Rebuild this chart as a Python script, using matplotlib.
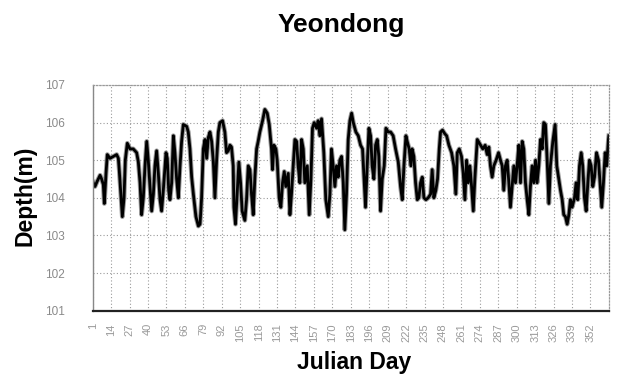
import numpy as np
import matplotlib
matplotlib.use("Agg")
import matplotlib.pyplot as plt

# Yeondong water depth (Julian day, depth in m)
julian_day = [
    1.0, 2.6, 4.3, 6.2, 7.3, 8.5, 9.2, 10.4, 11.3, 13.2, 15.6, 17.9, 19.1, 19.8,
    20.7, 21.9, 23.1, 24.0, 25.4, 27.3, 29.6, 32.0, 33.2, 34.4, 35.5, 36.7, 37.9,
    39.1, 40.2, 41.4, 42.6, 43.8, 44.9, 46.1, 47.3, 48.5, 49.6, 50.8, 52.7, 53.6,
    54.6, 55.5, 56.7, 57.9, 59.0, 60.2, 61.4, 62.6, 63.7, 64.9, 67.3, 68.4, 69.6,
    70.8, 72.0, 73.8, 75.5, 76.7, 77.8, 79.0, 80.2, 81.4, 82.5, 83.7, 84.9, 86.1,
    87.2, 88.4, 89.6, 90.7,
    92.6, 94.2, 95.4, 96.6, 97.8, 98.9, 100.1, 100.6, 101.7, 102.9, 104.1, 105.3,
    106.4, 108.3, 109.5, 110.7, 111.9, 113.0, 114.2, 115.4, 116.6, 117.7, 118.9,
    120.8, 122.4, 124.1, 125.5, 127.1, 127.8, 128.8, 130.2, 131.1, 132.5, 133.7,
    134.9, 136.1, 137.2, 138.9, 140.1, 141.2, 142.4, 143.6, 144.8, 145.9, 147.1,
    148.3, 149.5, 150.6, 152.3, 153.7, 154.9, 156.0, 157.2, 158.9, 160.0, 161.2,
    162.4, 164.0, 165.4, 167.1, 168.3, 169.4, 170.6, 171.8, 173.0, 174.1, 175.3,
    176.5, 177.7, 178.8, 180.0, 181.2, 182.4,
    183.6, 184.8, 186.6, 188.3, 189.9, 191.3, 192.3, 193.4, 194.6, 195.8, 197.0,
    198.1, 199.3, 200.5, 201.7, 202.8, 204.0, 205.2, 206.6, 207.8, 209.4, 211.1,
    212.9, 214.6, 216.5, 218.1, 219.3, 220.5, 221.9, 222.8, 224.2, 225.4, 226.3,
    227.5, 228.7, 229.9, 231.0, 232.2, 233.4, 234.6, 236.0, 237.6, 239.3, 240.4,
    241.6, 243.0, 244.2, 245.4, 246.3, 247.7, 249.4, 250.6, 252.2, 254.1, 255.7,
    257.1, 258.1, 259.5, 261.1, 262.3, 263.5, 264.7, 265.8, 267.0, 268.2, 269.4,
    270.5, 272.2,
    274.5, 276.1, 277.8, 279.2, 280.4, 281.5, 282.7, 283.9, 285.5, 287.2, 288.6,
    289.8, 290.9, 292.1, 293.3, 294.5, 295.6, 296.8, 298.0, 299.2, 300.3, 301.5,
    302.7, 303.9, 305.0, 306.2, 307.4, 308.6, 309.7, 310.9, 312.1, 313.3, 314.4,
    315.6, 316.8, 318.0, 319.1, 320.3, 321.5, 322.7, 323.8, 325.5, 327.1, 328.3,
    329.7, 330.9, 332.1, 333.2, 334.4, 335.6, 336.8, 337.9, 339.1, 340.8, 341.9,
    343.1, 344.3, 345.5, 346.6, 347.8, 349.0, 350.2, 351.3, 352.5, 353.7, 354.9,
    356.3, 357.7, 358.8, 360.0, 361.2, 362.4, 363.5, 364.7, 365.0,
]
depth = [
    104.44, 104.3, 104.45, 104.6, 104.5, 104.35, 103.85, 104.65, 105.15, 105.05,
    105.1, 105.15, 105.05, 104.7, 104.2, 103.5, 104.0, 105.0, 105.45, 105.3,
    105.3, 105.2, 104.95, 104.4, 103.55, 104.0, 104.85, 105.5, 105.0, 104.3,
    103.65, 104.1, 104.85, 105.25, 104.65, 103.95, 103.65, 104.2, 105.2, 105.05,
    104.2, 103.95, 104.4, 105.65, 105.2, 104.5, 104.0, 104.85, 105.5, 105.95,
    105.9, 105.75, 105.3, 104.55, 104.1, 103.5, 103.25, 103.3, 104.0, 105.3,
    105.55, 105.05, 105.6, 105.75, 105.5, 104.95, 104.0, 105.0, 105.75, 106.0,
    106.05, 105.75, 105.2, 105.25, 105.4, 105.35, 104.85, 103.75, 103.3, 104.1,
    104.95, 104.4, 103.65, 103.4, 103.95, 104.85, 104.75, 104.1, 103.55, 104.55,
    105.3, 105.5, 105.75, 106.05, 106.35, 106.25, 105.95, 105.3, 104.75, 105.4,
    105.3, 105.0, 104.0, 103.75, 104.4, 104.7, 104.3, 104.65, 103.55, 104.1,
    104.85, 105.55, 105.5, 104.85, 104.4, 105.55, 105.3, 104.4, 104.85, 103.55,
    104.5, 105.85, 106.0, 105.85, 106.05, 105.65, 106.1, 105.2, 103.95, 103.5,
    104.1, 105.3, 104.85, 104.3, 104.85, 104.55, 105.0, 105.1, 104.4, 103.15,
    104.1, 105.55, 106.05,
    106.25, 106.0, 105.75, 105.65, 105.4, 105.3, 104.55, 103.75, 104.85, 105.85,
    105.65, 104.85, 104.5, 105.4, 105.55, 105.1, 103.65, 104.5, 104.85, 105.85,
    105.75, 105.75, 105.65, 105.3, 104.95, 104.3, 103.95, 104.85, 105.65, 105.5,
    105.3, 104.85, 105.3, 105.1, 104.4, 103.95, 104.0, 104.4, 104.55, 104.0,
    103.95, 104.0, 104.1, 104.75, 104.0, 104.2, 104.5, 105.3, 105.75, 105.8,
    105.7, 105.65, 105.4, 105.2, 104.85, 104.1, 105.2, 105.3, 105.1, 104.65,
    103.95, 105.0, 104.4, 104.85, 104.3, 103.65, 104.5, 105.55,
    105.4, 105.3, 105.4, 105.15, 105.35, 104.85, 104.55, 104.85, 105.0, 105.2,
    105.0, 104.85, 104.2, 104.85, 105.0, 104.4, 103.75, 104.3, 104.85, 104.4,
    104.85, 105.4, 104.4, 105.5, 105.3, 104.4, 103.95, 103.55, 104.3, 104.85,
    104.4, 105.0, 104.4, 104.85, 105.55, 105.3, 106.0, 105.95, 105.0, 103.85,
    104.85, 105.5, 105.95, 104.85, 104.5, 104.2, 103.95, 103.55, 103.5, 103.3,
    103.55, 103.95, 103.75, 104.0, 104.4, 103.95, 104.85, 105.2, 104.85, 104.0,
    103.65, 104.4, 105.0, 104.85, 104.3, 104.55, 105.2, 105.0, 104.4, 103.75,
    104.4, 105.2, 104.85, 105.55, 105.65,
]

# x ticks every 13 days
tick_days = list(range(1, 353, 13))
depth_ticks = [101, 102, 103, 104, 105, 106, 107]

fig = plt.figure(figsize=(6.2, 3.81), dpi=100)
ax = fig.add_axes([0.1495, 0.1845, 0.8325, 0.5925])

# grey halo under the black trace, like the scanned original
ax.plot(julian_day, depth, color="#9a9a9a", lw=3.4, solid_joinstyle="round")
ax.plot(julian_day, depth, color="black", lw=2.0, solid_joinstyle="round")

ax.set_xlim(1, 365)
ax.set_ylim(101, 107)
ax.set_xticks(tick_days)
ax.set_xticklabels([str(d) for d in tick_days], rotation=90, fontsize=8,
                   color="#9a9a9a", family="Liberation Sans")
ax.set_yticks(depth_ticks)
ax.set_yticklabels([str(d) for d in depth_ticks], fontsize=8.5,
                   color="#8a8a8a", family="Liberation Sans")
ax.tick_params(axis="y", length=0, pad=20)
ax.tick_params(axis="x", length=0, pad=9)

ax.grid(True, color="#9a9a9a", linestyle=(0, (1, 2)), linewidth=0.8)
ax.set_axisbelow(True)

for side in ["top", "right"]:
    ax.spines[side].set_color("#9a9a9a")
    ax.spines[side].set_linestyle((0, (1, 1.5)))
    ax.spines[side].set_linewidth(0.9)
ax.spines["left"].set_color("#888888")
ax.spines["left"].set_linewidth(1.0)
ax.spines["bottom"].set_color("#222222")
ax.spines["bottom"].set_linewidth(1.6)

fig.text(341 / 620, 1 - 25 / 381, "Yeondong", ha="center", va="center",
         fontsize=19, fontweight="bold", family="Liberation Sans")
fig.text(25 / 620, 1 - 196 / 381, "Depth(m)", ha="center", va="center",
         rotation=90, fontsize=16.5, fontweight="bold", family="Liberation Sans")
fig.text(354 / 620, 1 - 362 / 381, "Julian Day", ha="center", va="center",
         fontsize=16.5, fontweight="bold", family="Liberation Sans")

fig.savefig("out.png", dpi=100)
